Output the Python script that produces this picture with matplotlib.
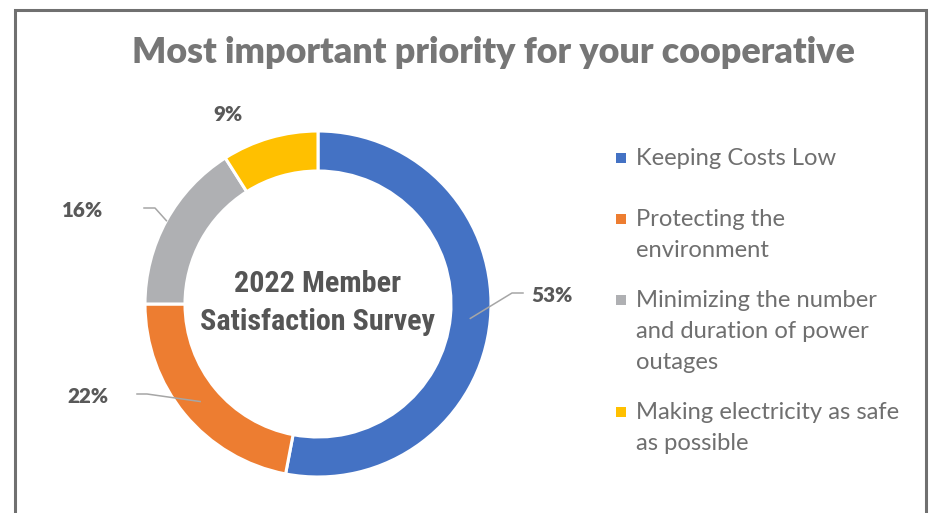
import matplotlib.pyplot as plt
from matplotlib import font_manager as fm
import numpy as np

# data
labels = ["Keeping Costs Low",
          "Protecting the\nenvironment",
          "Minimizing the number\nand duration of power\noutages",
          "Making electricity as safe\nas possible"]
values = [53, 22, 16, 9]
colors = ["#4472C4", "#ED7D31", "#AFB0B3", "#FFC000"]
title = "Most important priority for your cooperative"
center_text = ["2022 Member", "Satisfaction Survey"]

W, H = 930, 513
fig = plt.figure(figsize=(W / 100, H / 100), dpi=100)
ax = fig.add_axes([0, 0, 1, 1])

names = {f.name for f in fm.fontManager.ttflist}
def pick(cands, default="DejaVu Sans"):
    for c in cands:
        if c in names:
            return c
    return default

main_font = pick(["Lato", "Open Sans", "Noto Sans"])
cond_font = pick(["Roboto Condensed", "Liberation Sans Narrow", "Roboto"])

# donut (pixel coordinates, y from top -> H - y)
cx, cy, R, ring = 318, 304, 173, 40
wedges, _ = ax.pie(values, colors=colors, startangle=90, counterclock=False,
                   radius=R, center=(cx, H - cy),
                   wedgeprops=dict(width=ring, edgecolor="white", linewidth=2.2))

ax.set_xlim(0, W)
ax.set_ylim(0, H)
ax.set_aspect("equal")
ax.axis("off")

renderer = fig.canvas.get_renderer()
def fit(t, width):
    for _ in range(3):
        bb = t.get_window_extent(renderer)
        t.set_fontsize(t.get_fontsize() * width / bb.width)
    return t.get_fontsize()

# frame
ax.plot([15, 15, 926, 926], [0, H - 10, H - 10, 0], color="#707070", lw=2.2,
        solid_joinstyle="miter", clip_on=False)

# title
t = ax.text(493, H - 63, title, ha="center", va="baseline", fontsize=28,
            fontweight="heavy", color="#767676", family=main_font)
fit(t, 727)

# center text
t1 = ax.text(cx, H - 330, center_text[1], ha="center", va="baseline", fontsize=20,
             fontweight="bold", color="#555555", family=cond_font)
fs = fit(t1, 234)
ax.text(cx, H - 292, center_text[0], ha="center", va="baseline", fontsize=fs,
        fontweight="bold", color="#555555", family=cond_font)

# data labels (label position, elbow points, radius where leader meets ring)
lab_pos = [(552, 302), (88, 403), (83, 217), (228, 121)]
elbows = [[(523, 293), (512, 293)], [(137, 394), (147, 394)],
          [(144, 208), (155, 208)], []]
lead_r = [R - ring / 2, R - ring / 2, R, None]

t = ax.text(0, 0, "53%", fontsize=14, fontweight="heavy", family=main_font)
lab_fs = fit(t, 41)
t.remove()

cum = np.cumsum([0] + values[:-1])
for i, v in enumerate(values):
    x, y = lab_pos[i]
    ax.text(x, H - y, f"{v}%", ha="center", va="baseline", fontsize=lab_fs,
            fontweight="heavy", color="#595959", family=main_font)
    if elbows[i]:
        ang = np.deg2rad(90 - (cum[i] + v / 2) / sum(values) * 360)
        px = cx + lead_r[i] * np.cos(ang)
        py = (H - cy) + lead_r[i] * np.sin(ang)
        xs = [p[0] for p in elbows[i]] + [px]
        ys = [H - p[1] for p in elbows[i]] + [py]
        ax.plot(xs, ys, color="#A6A6A6", lw=1.1)

# legend
leg_y = [165, 226, 307, 419]
line_h = 31
t = ax.text(636, 0, "Making electricity as safe", fontsize=16, family=main_font)
leg_fs = fit(t, 262)
t.remove()
for i, lab in enumerate(labels):
    ax.scatter([620.5], [H - leg_y[i] + 7.5], marker="s", s=6.5 ** 2,
               color=colors[i], linewidths=0)
    for j, line in enumerate(lab.split("\n")):
        ax.text(636, H - leg_y[i] - j * line_h, line, ha="left", va="baseline",
                fontsize=leg_fs, color="#6F6F6F", family=main_font)

fig.savefig("out.png", dpi=100, facecolor="white")
